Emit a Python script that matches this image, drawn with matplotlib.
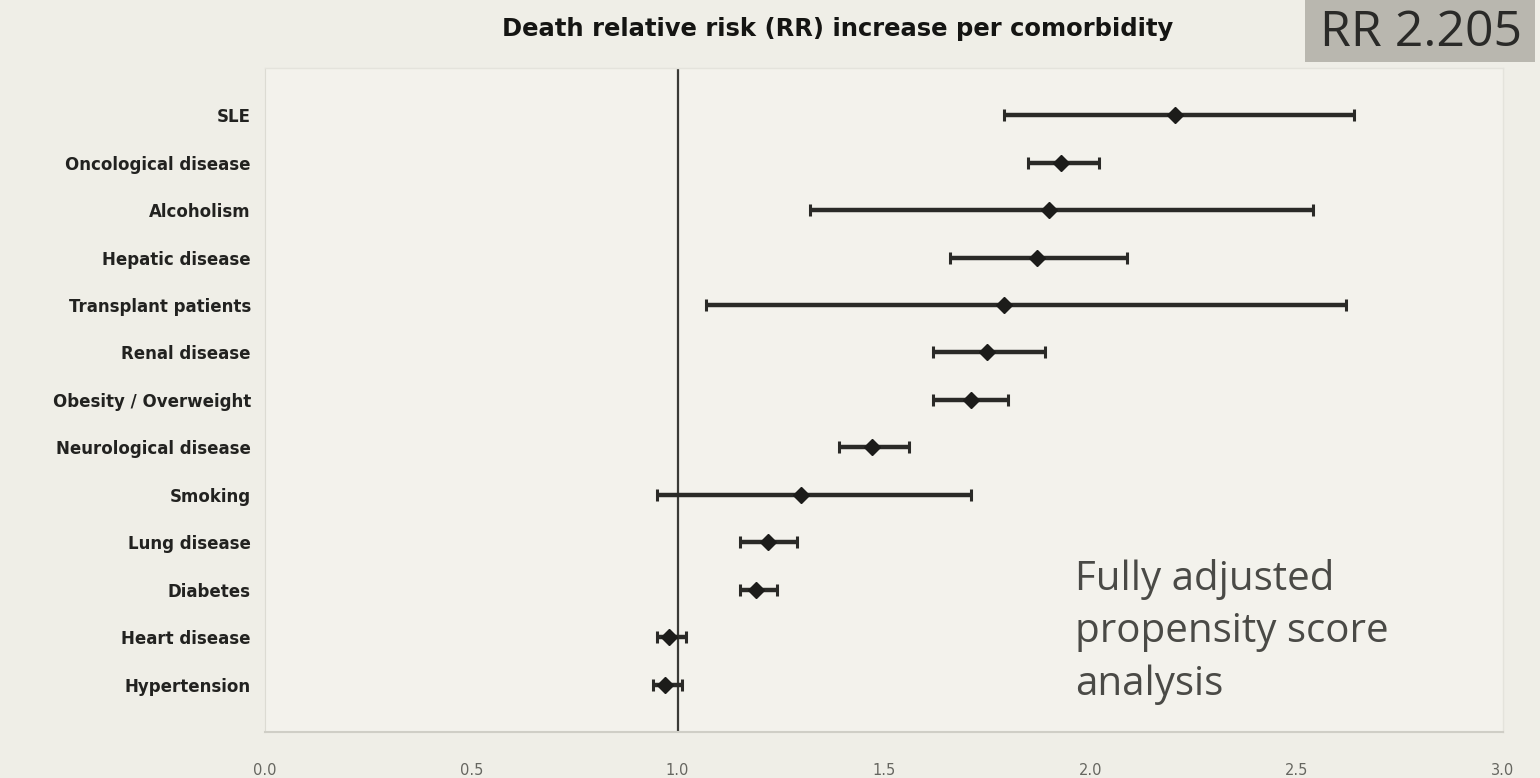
import matplotlib
matplotlib.use("Agg")
import matplotlib.pyplot as plt
from matplotlib.patches import Rectangle

# Comorbidities, top to bottom
categories = [
    "SLE", "Oncological disease", "Alcoholism", "Hepatic disease",
    "Transplant patients", "Renal disease", "Obesity / Overweight",
    "Neurological disease", "Smoking", "Lung disease", "Diabetes",
    "Heart disease", "Hypertension",
]
rr = [2.205, 1.93, 1.90, 1.87, 1.79, 1.75, 1.71, 1.47, 1.30, 1.22, 1.19, 0.98, 0.97]
ci_low = [1.79, 1.85, 1.32, 1.66, 1.07, 1.62, 1.62, 1.39, 0.95, 1.15, 1.15, 0.95, 0.94]
ci_high = [2.64, 2.02, 2.54, 2.09, 2.62, 1.89, 1.80, 1.56, 1.71, 1.29, 1.24, 1.02, 1.01]
x_ticks = [0.0, 0.5, 1.0, 1.5, 2.0, 2.5, 3.0]
x_tick_labels = ["0.0", "0.5", "1.0", "1.5", "2.0", "2.5", "3.0"]

bg = "#efeee7"
fig = plt.figure(figsize=(15.4, 7.78), dpi=100, facecolor=bg)
ax = fig.add_axes([0.172, 0.059, 0.804, 0.854], facecolor="#f3f2ec")

n = len(categories)
ypos = list(range(n, 0, -1))

err_lo = [r - lo for r, lo in zip(rr, ci_low)]
err_hi = [hi - r for r, hi in zip(rr, ci_high)]
ax.errorbar(rr, ypos, xerr=[err_lo, err_hi], fmt="D", color="#1c1c1a",
            markersize=8, elinewidth=3.2, capsize=4, capthick=2.2,
            ecolor="#2a2a27", zorder=3)

# reference line at RR = 1
ax.axvline(1.0, color="#3a3a36", linewidth=1.6, zorder=2)

ax.set_xlim(0, 3.0)
ax.set_ylim(0, n + 1)
ax.set_yticks(ypos)
ax.set_yticklabels(categories, fontsize=12, fontweight="semibold",
                   color="#222220", family="DejaVu Sans")
ax.set_xticks(x_ticks)
ax.set_xticklabels(x_tick_labels, fontsize=10.5, color="#666660")
ax.tick_params(axis="both", length=0)
ax.tick_params(axis="y", pad=10)
ax.tick_params(axis="x", pad=22)

for side in ["top", "right"]:
    ax.spines[side].set_color("#e4e3dc")
    ax.spines[side].set_linewidth(1.0)
ax.spines["left"].set_color("#dcdbd3")
ax.spines["bottom"].set_color("#cfcec6")
ax.spines["bottom"].set_linewidth(1.5)

fig.text(838 / 1540, 0.963, "Death relative risk (RR) increase per comorbidity",
         ha="center", va="center", fontsize=17.5, fontweight="bold",
         color="#151513", family="DejaVu Sans")

# highlighted overall RR box
fig.patches.append(Rectangle((1305 / 1540, 1 - 62 / 778), 230 / 1540, 62 / 778,
                             transform=fig.transFigure, facecolor="#b9b7af",
                             edgecolor="none", zorder=0))
fig.text(1421 / 1540, 1 - 33 / 778, "RR 2.205", ha="center", va="center",
         fontsize=36, color="#2a2a28", family="Open Sans")

fig.text(1075 / 1540, 1 - 632 / 778, "Fully adjusted\npropensity score\nanalysis",
         ha="left", va="center", fontsize=29, color="#4a4a46",
         family="Open Sans", linespacing=1.4)

fig.savefig("out.png", dpi=100, facecolor=bg)
